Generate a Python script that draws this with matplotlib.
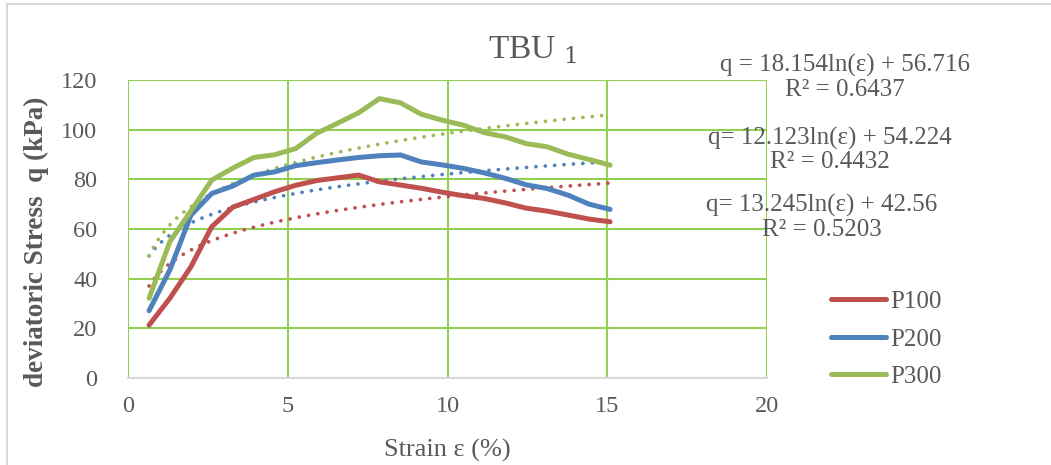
import numpy as np
import matplotlib
matplotlib.use("Agg")
import matplotlib.pyplot as plt
from matplotlib.lines import Line2D

plt.rcParams['font.family'] = ['Liberation Serif', 'DejaVu Serif']

# strain (%) and deviatoric stress (kPa)
strain = [0.66, 1.31, 1.97, 2.62, 3.28, 3.94, 4.59, 5.25, 5.9, 6.56, 7.22, 7.87,
          8.53, 9.18, 9.84, 10.5, 11.15, 11.81, 12.46, 13.12, 13.78, 14.43, 15.09]
p100 = [21.3, 32.1, 44.8, 60.9, 68.8, 71.9, 75.0, 77.6, 79.5, 80.6, 81.7, 79.0,
        77.7, 76.4, 74.8, 73.4, 72.3, 70.5, 68.4, 67.2, 65.6, 64.0, 62.9]
p200 = [27.1, 43.5, 65.6, 74.3, 77.3, 81.7, 83.0, 85.5, 86.7, 87.8, 88.8, 89.5,
        89.8, 87.0, 85.8, 84.4, 82.6, 80.4, 77.8, 76.3, 73.6, 70.0, 67.9]
p300 = [32.1, 54.9, 67.3, 79.7, 84.5, 88.8, 89.9, 92.4, 98.5, 102.6, 106.8, 112.5,
        110.8, 106.2, 103.8, 101.8, 98.8, 97.1, 94.4, 93.1, 90.1, 88.0, 85.7]

# log trendlines q = a*ln(eps) + b
fit_a = [13.245, 12.123, 18.154]
fit_b = [42.56, 54.224, 56.716]
fit_r2 = [0.5203, 0.4432, 0.6437]

names = ['P100', 'P200', 'P300']
colors = ['#C0504D', '#4F81BD', '#9BBB59']
grid_col = '#92D050'
txt = '#595959'

fig = plt.figure(figsize=(10.51, 4.65), dpi=100)
ax = fig.add_axes([128/1051, 1-378/465, (767-128)/1051, (378-80)/465])

series = [p100, p200, p300]
xs = np.linspace(strain[0], strain[-1], 200)
for ys, a, b, c in zip(series, fit_a, fit_b, colors):
    ax.plot(xs, a*np.log(xs) + b, color=c, lw=2.7, linestyle=(0, (0.01, 2.5)),
            dash_capstyle='round', zorder=3)
for ys, c in zip(series, colors):
    ax.plot(strain, ys, color=c, lw=3.6, solid_capstyle='round', zorder=4)

ax.set_xlim(0, 20)
ax.set_ylim(0, 120)
ax.set_xticks([0, 5, 10, 15, 20])
ax.set_yticks(range(0, 121, 20))
ax.grid(True, color=grid_col, lw=1.5)
ax.set_axisbelow(True)
for s in ['top', 'right', 'left']:
    ax.spines[s].set_visible(False)
ax.spines['bottom'].set_color('#D9D9D9')
ax.spines['bottom'].set_linewidth(1.5)
ax.tick_params(length=0, labelsize=17.5, colors=txt, pad=13)
ax.tick_params(axis='y', pad=22)

ax.set_xlabel('Strain ε (%)', fontsize=19, color=txt, labelpad=16)
fig.text(36/1051, 1-242/465, 'deviatoric Stress  q (kPa)', rotation=90,
         ha='center', va='center', fontsize=19.5, fontweight='bold', color=txt)

fig.text(532/1051, 1-50/465, 'TBU $_1$', ha='center', va='center', fontsize=24,
         color=txt, math_fontfamily='dejavuserif')

# trendline equations
eq_pos = [(822, 205, 230), (830, 138, 162), (845, 65, 90)]
eq_txt = ['q= 13.245ln(ε) + 42.56', 'q= 12.123ln(ε) + 54.224', 'q = 18.154ln(ε) + 56.716']
for (x, y1, y2), t, r2 in zip(eq_pos, eq_txt, fit_r2):
    fig.text(x/1051, 1-y1/465, t, ha='center', va='center', fontsize=18, color=txt)
    fig.text(x/1051, 1-y2/465, 'R² = %.4f' % r2, ha='center', va='center',
             fontsize=18, color=txt)

handles = [Line2D([], [], color=c, lw=3.6, solid_capstyle='round') for c in colors]
fig.legend(handles, names, loc='upper left', bbox_to_anchor=(808/1051, 1-268/465),
           frameon=False, fontsize=18, labelcolor=txt, handlelength=2.2,
           handletextpad=0.2, labelspacing=0.6)

# chart border
fig.add_artist(Line2D([6.5/1051, 6.5/1051], [0, 1-4.5/465], color='#D9D9D9', lw=1.5))
fig.add_artist(Line2D([6.5/1051, 1], [1-4.5/465, 1-4.5/465], color='#D9D9D9', lw=1.5))

fig.savefig('out.png', dpi=100)
